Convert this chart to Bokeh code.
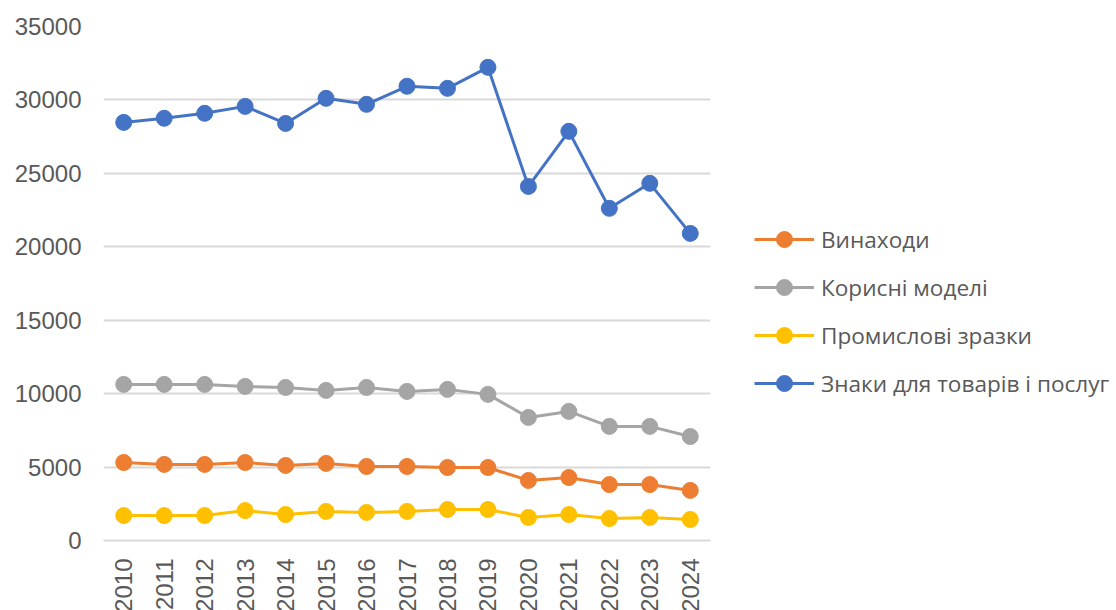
from bokeh.plotting import figure
from bokeh.models import ColumnDataSource, Legend, LegendItem, FixedTicker, Range1d
from bokeh.embed import file_html
from bokeh.resources import INLINE

years = [2010, 2011, 2012, 2013, 2014, 2015, 2016, 2017, 2018, 2019, 2020, 2021, 2022, 2023, 2024]
vynakhody = [5310, 5180, 5180, 5310, 5110, 5250, 5040, 5040, 4970, 4970, 4090, 4290, 3810, 3810, 3410]
korysni = [10630, 10630, 10630, 10490, 10420, 10220, 10420, 10150, 10290, 9950, 8380, 8790, 7770, 7770, 7080]
promyslovi = [1700, 1700, 1700, 2040, 1770, 1980, 1910, 1980, 2110, 2110, 1570, 1770, 1500, 1570, 1430]
znaky = [28470, 28750, 29090, 29560, 28400, 30110, 29700, 30930, 30790, 32220, 24110, 27860, 22620, 24320, 20910]
y_ticks = [0, 5000, 10000, 15000, 20000, 25000, 30000, 35000]

series = [
    ("Винаходи", vynakhody, "#ED7D31"),
    ("Корисні моделі", korysni, "#A5A5A5"),
    ("Промислові зразки", promyslovi, "#FFC000"),
    ("Знаки для товарів і послуг", znaky, "#4472C4"),
]

p = figure(frame_width=607, frame_height=514, output_backend="svg", toolbar_location=None,
           x_range=Range1d(2009.5, 2024.5), y_range=Range1d(0, 35000),
           min_border_left=103, min_border_right=0, min_border_top=26, min_border_bottom=60)
p.outline_line_color = None
p.background_fill_color = "white"

items = []
for name, vals, color in series:
    src = ColumnDataSource(dict(x=years, y=vals))
    r1 = p.line("x", "y", source=src, line_color=color, line_width=3)
    r2 = p.scatter("x", "y", source=src, size=16, fill_color=color, line_color=color)
    items.append(LegendItem(label=name, renderers=[r1, r2]))

p.xaxis.ticker = FixedTicker(ticks=years)
p.xaxis.major_label_orientation = 1.5707963
p.xaxis.axis_line_color = "#D9D9D9"
p.xaxis.axis_line_width = 2
p.xaxis.major_tick_line_color = None
p.xaxis.minor_tick_line_color = None
p.xaxis.major_label_text_font = "Liberation Sans"
p.xaxis.major_label_text_font_size = "24px"
p.xaxis.major_label_text_color = "#595959"
p.xaxis.major_label_standoff = 12

p.yaxis.ticker = FixedTicker(ticks=y_ticks)
p.yaxis.axis_line_color = None
p.yaxis.major_tick_line_color = None
p.yaxis.minor_tick_line_color = None
p.yaxis.major_label_text_font = "Liberation Sans"
p.yaxis.major_label_text_font_size = "24px"
p.yaxis.major_label_text_color = "#595959"
p.yaxis.major_label_standoff = 16

p.xgrid.grid_line_color = None
p.ygrid.grid_line_color = "#D9D9D9"
p.ygrid.grid_line_width = 2

legend = Legend(items=items, location=(44, 137), orientation="vertical")
legend.border_line_color = None
legend.background_fill_alpha = 0
legend.padding = 0
legend.margin = 0
legend.glyph_width = 60
legend.glyph_height = 40
legend.label_height = 40
legend.spacing = 8
legend.label_standoff = 7
legend.label_text_font = "Open Sans"
legend.label_text_font_size = "22.6px"
legend.label_text_color = "#595959"
p.add_layout(legend, "right")

open("out.html", "w").write(file_html(p, INLINE))
